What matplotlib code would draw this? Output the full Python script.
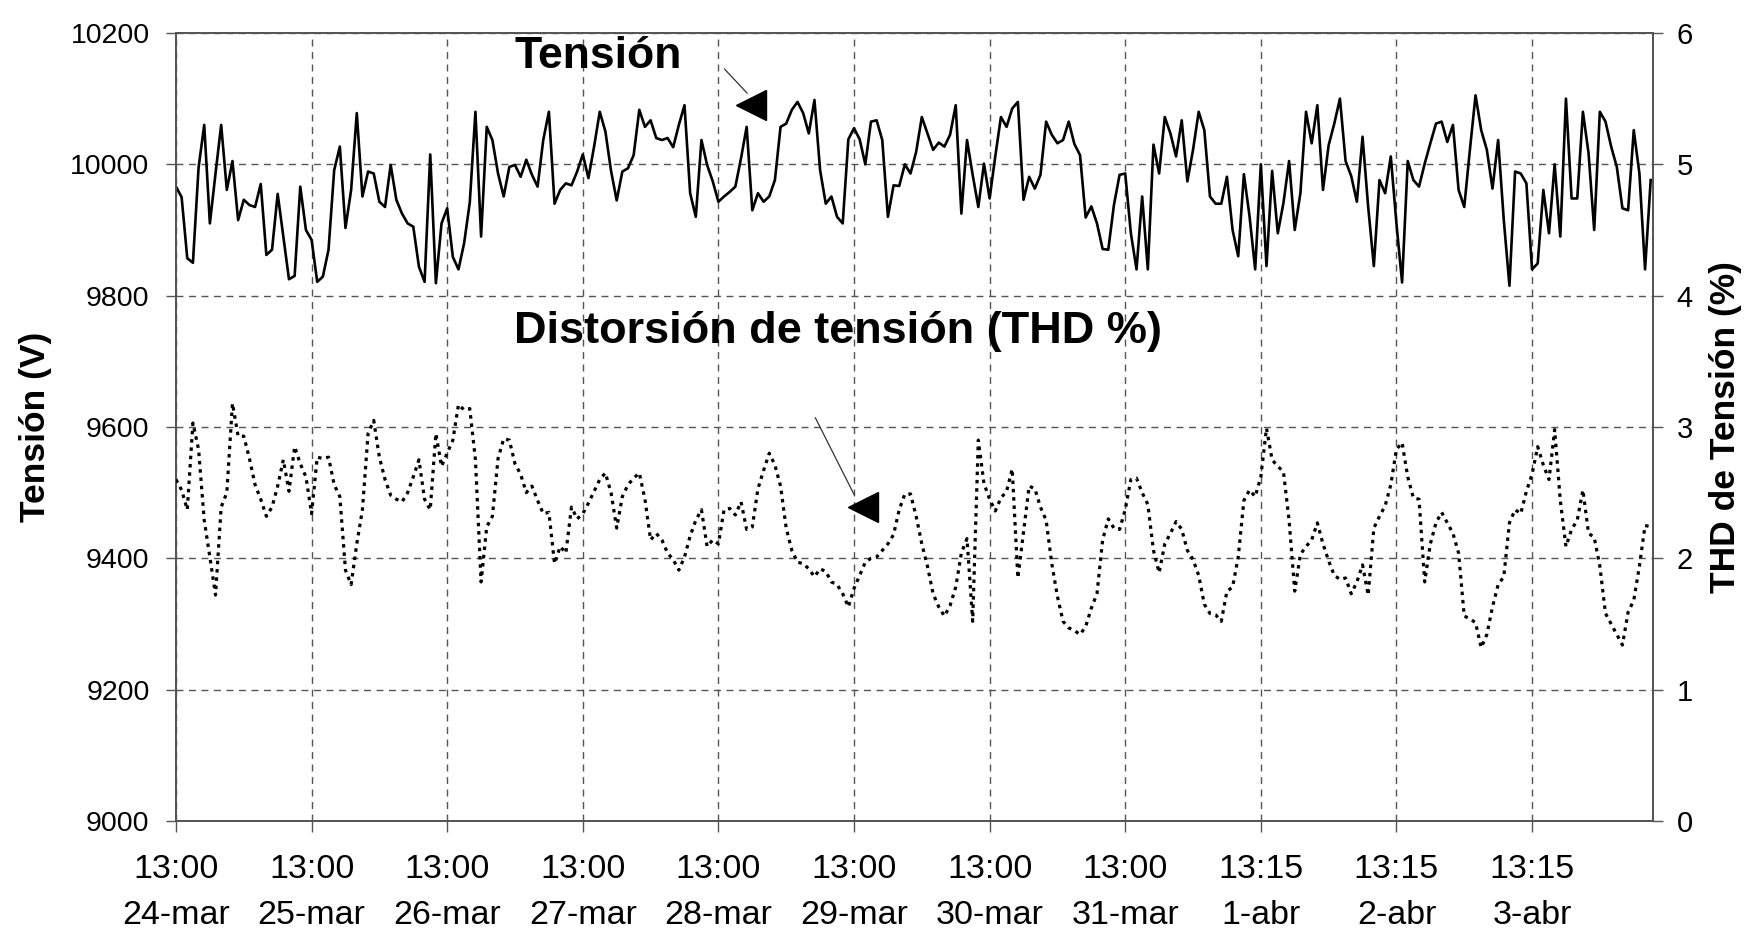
import numpy as np
import matplotlib
matplotlib.use("Agg")
import matplotlib.pyplot as plt

plt.rcParams["font.family"] = ["Liberation Sans", "DejaVu Sans"]

# ---------------------------------------------------------
# DATA (hourly readings from 24-mar 13:00)
# ---------------------------------------------------------

tick_labels = ["13:00\n24-mar", "13:00\n25-mar", "13:00\n26-mar", "13:00\n27-mar",
               "13:00\n28-mar", "13:00\n29-mar", "13:00\n30-mar", "13:00\n31-mar",
               "13:15\n1-abr", "13:15\n2-abr", "13:15\n3-abr"]

tension_v = [
    9966, 9950, 9857, 9850, 9995, 10060, 9910, 9986, 10060, 9961,
    10005, 9915, 9946, 9938, 9935, 9970, 9862, 9870, 9955, 9890,
    9825, 9830, 9966, 9900, 9885, 9821, 9829, 9870, 9991, 10027,
    9903, 9961, 10078, 9951, 9989, 9986, 9943, 9935, 9999, 9946,
    9925, 9910, 9905, 9844, 9821, 10015, 9819, 9910, 9933, 9859,
    9840, 9880, 9942, 10080, 9890, 10057, 10037, 9986, 9951, 9996,
    9999, 9981, 10007, 9984, 9966, 10037, 10080, 9940, 9961, 9971,
    9968, 9989, 10015, 9979, 10027, 10080, 10050, 9990, 9945, 9989,
    9994, 10014, 10083, 10057, 10067, 10040, 10037, 10040, 10026, 10060,
    10090, 9956, 9920, 10037, 9999, 9974, 9943, 9951, 9958, 9966,
    10009, 10057, 9930, 9956, 9943, 9951, 9976, 10057, 10062, 10083,
    10095, 10078, 10047, 10098, 9991, 9940, 9951, 9920, 9910, 10038,
    10055, 10038, 10000, 10065, 10067, 10037, 9920, 9968, 9967, 10000,
    9986, 10019, 10072, 10047, 10022, 10033, 10027, 10045, 10090, 9925,
    10037, 9984, 9935, 10001, 9948, 10012, 10072, 10057, 10085, 10095,
    9946, 9981, 9963, 9984, 10065, 10045, 10032, 10037, 10065, 10031,
    10014, 9919, 9936, 9910, 9871, 9870, 9938, 9984, 9986, 9895,
    9840, 9951, 9840, 10030, 9986, 10072, 10047, 10012, 10067, 9974,
    10022, 10080, 10052, 9951, 9940, 9940, 9981, 9900, 9860, 9985,
    9921, 9840, 10000, 9845, 9990, 9895, 9941, 10005, 9900, 9956,
    10080, 10032, 10090, 9961, 10029, 10062, 10100, 10005, 9982, 9943,
    10042, 9935, 9845, 9976, 9956, 10012, 9910, 9820, 10005, 9976,
    9966, 10001, 10032, 10062, 10065, 10034, 10060, 9961, 9935, 10022,
    10105, 10052, 10022, 9963, 10037, 9915, 9815, 9989, 9986, 9971,
    9840, 9849, 9961, 9895, 10000, 9890, 10100, 9948, 9948, 10080,
    10017, 9900, 10080, 10065, 10027, 9996, 9933, 9930, 10052, 9986,
    9840, 9976,
]

thd_pct = [
    2.60, 2.52, 2.37, 3.03, 2.83, 2.29, 2.01, 1.72, 2.39, 2.50,
    3.18, 2.93, 2.93, 2.76, 2.56, 2.45, 2.32, 2.39, 2.55, 2.75,
    2.51, 2.85, 2.72, 2.62, 2.34, 2.77, 2.76, 2.77, 2.56, 2.47,
    1.91, 1.80, 2.11, 2.37, 2.95, 3.05, 2.77, 2.60, 2.48, 2.45,
    2.43, 2.50, 2.62, 2.75, 2.45, 2.37, 2.95, 2.70, 2.80, 2.90,
    3.17, 3.13, 3.14, 2.75, 1.82, 2.24, 2.32, 2.76, 2.91, 2.90,
    2.72, 2.64, 2.50, 2.55, 2.44, 2.34, 2.35, 1.96, 2.09, 2.04,
    2.39, 2.30, 2.34, 2.42, 2.51, 2.60, 2.65, 2.50, 2.23, 2.47,
    2.56, 2.61, 2.65, 2.45, 2.14, 2.19, 2.14, 2.04, 1.99, 1.91,
    2.01, 2.17, 2.29, 2.37, 2.09, 2.14, 2.11, 2.37, 2.38, 2.33,
    2.43, 2.22, 2.24, 2.53, 2.67, 2.80, 2.71, 2.55, 2.23, 2.06,
    1.97, 1.96, 1.92, 1.86, 1.92, 1.90, 1.82, 1.80, 1.73, 1.63,
    1.77, 1.87, 1.97, 2.00, 2.01, 2.06, 2.11, 2.18, 2.37, 2.49,
    2.49, 2.32, 2.11, 1.94, 1.73, 1.63, 1.56, 1.64, 1.78, 2.04,
    2.15, 1.52, 2.90, 2.57, 2.45, 2.36, 2.46, 2.51, 2.68, 1.85,
    2.20, 2.55, 2.53, 2.39, 2.29, 1.96, 1.71, 1.52, 1.47, 1.45,
    1.42, 1.48, 1.62, 1.73, 2.14, 2.30, 2.23, 2.22, 2.37, 2.60,
    2.61, 2.50, 2.41, 2.06, 1.89, 2.11, 2.19, 2.28, 2.22, 2.06,
    1.99, 1.87, 1.65, 1.58, 1.57, 1.52, 1.75, 1.78, 2.01, 2.44,
    2.52, 2.47, 2.62, 2.99, 2.75, 2.70, 2.66, 2.29, 1.75, 2.03,
    2.09, 2.14, 2.27, 2.11, 1.98, 1.87, 1.84, 1.85, 1.73, 1.82,
    1.95, 1.72, 2.23, 2.32, 2.40, 2.56, 2.83, 2.88, 2.62, 2.46,
    2.45, 1.82, 2.11, 2.27, 2.35, 2.27, 2.19, 2.04, 1.56, 1.54,
    1.51, 1.32, 1.42, 1.63, 1.80, 1.86, 2.27, 2.37, 2.34, 2.51,
    2.64, 2.85, 2.71, 2.60, 2.98, 2.44, 2.09, 2.22, 2.29, 2.52,
    2.19, 2.16, 1.94, 1.58, 1.50, 1.42, 1.34, 1.59, 1.68, 1.94,
    2.25, 2.24,
]

hours_v = np.arange(len(tension_v))
hours_thd = np.arange(len(thd_pct))
tick_hours = np.arange(len(tick_labels)) * 24

# ---------------------------------------------------------
# PLOT
# ---------------------------------------------------------

fig = plt.figure(figsize=(17.44, 9.34), dpi=100)
ax = fig.add_axes([0.1009, 0.121, 0.8469, 0.8437])
ax2 = ax.twinx()

ax.plot(hours_v, tension_v, color="black", lw=1.9, zorder=3)
ax2.plot(hours_thd, thd_pct, color="black", lw=2.3, ls=(0, (1.1, 1.5)), zorder=3)

ax.set_xlim(0, 261.4)
ax.set_ylim(9000, 10200)
ax2.set_ylim(0, 6)

ax.set_yticks(np.arange(9000, 10201, 200))
ax2.set_yticks(np.arange(0, 7, 1))
ax.set_xticks(tick_hours)
ax.set_xticklabels(tick_labels, linespacing=1.6)

ax.set_axisbelow(True)
ax.grid(True, ls=(0, (5, 4)), color="#555555", lw=1.0)

for a in (ax, ax2):
    for s in a.spines.values():
        s.set_color("#555555")
        s.set_linewidth(1.3)

ax.tick_params(axis="y", direction="out", length=7, width=1, color="#555555",
               labelsize=20.5, pad=12)
ax.tick_params(axis="x", direction="out", length=8, width=1, color="#555555",
               labelsize=24.5, pad=16)
ax2.tick_params(axis="y", direction="out", length=7, width=1, color="#555555",
                labelsize=21, pad=10)

ax.set_ylabel("Tensión (V)", fontsize=25.5, fontweight="bold")
ax.yaxis.set_label_coords(-0.084, 0.5)
ax2.set_ylabel("THD de Tensión (%)", fontsize=25.5, fontweight="bold")
ax2.yaxis.set_label_coords(1.038, 0.5)

# labels with arrows
ax.text(0.229, 0.9556, "Tensión", transform=ax.transAxes, fontsize=32,
        fontweight="bold", ha="left", va="baseline")
ax.text(0.229, 0.6066, "Distorsión de tensión (THD %)", transform=ax.transAxes,
        fontsize=32.5, fontweight="bold", ha="left", va="baseline")

ax.annotate("", xy=(0.388, 0.921), xytext=(0.370, 0.957), xycoords="axes fraction",
            arrowprops=dict(arrowstyle="-", color="#333333", lw=0.9))
ax.plot([0.389], [0.909], marker="<", ms=22, color="black", transform=ax.transAxes,
        clip_on=False, zorder=5)

ax.annotate("", xy=(0.460, 0.411), xytext=(0.432, 0.515), xycoords="axes fraction",
            arrowprops=dict(arrowstyle="-", color="#333333", lw=0.9))
ax.plot([0.465], [0.398], marker="<", ms=22, color="black", transform=ax.transAxes,
        clip_on=False, zorder=5)

fig.savefig("out.png", dpi=100)
plt.close("all")
